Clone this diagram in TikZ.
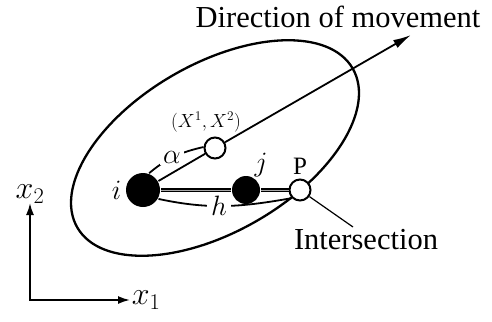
\RequirePackage{fix-cm}
\documentclass[tikz,border=0pt]{standalone}
\usepackage[no-math]{fontspec}
\setmainfont{Liberation Serif}
\usetikzlibrary{arrows.meta,positioning}

\tikzset{
  fulldot/.style={circle, fill=black, inner sep=0pt},
  opendot/.style={circle, draw, line width=2pt, fill=white, inner sep=0pt, minimum size=21pt},
  mlabel/.style={inner sep=1pt, font=\fontsize{28}{30}\selectfont},
  axlabel/.style={inner sep=1pt, font=\fontsize{32}{34}\selectfont},
  tlabel/.style={inner sep=1pt, font=\fontsize{30.5}{33}\selectfont},
  arr/.style={-{Latex[length=18pt,width=9pt]}},
}

\begin{document}
\begin{tikzpicture}[x=1pt, y=1pt, line width=1.8pt]
    \useasboundingbox (0,0) rectangle (492,-321);
    % -----------------------------------------------------
    % 1) Elipse centrada en (X^1,X^2), inclinada 30 grados
    % -----------------------------------------------------
    \coordinate (c) at (215,-148);
    \draw[line width=2.3pt, rotate around={30:(c)}] (c) ellipse (159 and 84);

    % -----------------------------------------------------
    % 2) Puntos i, j, (X^1,X^2) y P
    % -----------------------------------------------------
    \node[fulldot, minimum size=34pt] (i) at (143,-190) {};
    \node[fulldot, minimum size=28pt] (j) at (246,-190) {};
    \node[opendot] (X) at (c) {};
    \node[opendot] (P) at (300,-190) {};

    \node[mlabel, left=2pt of i] (ilab) {$i$};
    \node[mlabel] (jlab) at (261,-165) {$j$};
    \node[inner sep=1pt, font=\fontsize{25}{27}\selectfont, above=2pt of P] (Plab) {P};
    \node[inner sep=1pt, font=\fontsize{19}{21}\selectfont] (Xlab) at (206,-122) {$(X^1,X^2)$};

    % -----------------------------------------------------
    % 3) Segmento i--P y direccion de movimiento
    % -----------------------------------------------------
    \draw[line width=1.3pt, double=black!35, double distance=0.7pt] (i) -- (j) -- (P);
    \draw (i) -- (X);
    \coordinate (tip) at (411,-35);
    \draw[arr] (X) -- (tip);
    \node[tlabel] (dir) at (338,-17) {Direction of movement};

    % -----------------------------------------------------
    % 4) Distancias alpha y h
    % -----------------------------------------------------
    \draw (i.70) to[out=40, in=193]
        node[pos=0.45, mlabel, fill=white, inner xsep=3pt] (alab) {$\alpha$} (X.175);
    \draw (i.-30) to[out=-12, in=190]
        node[pos=0.45, mlabel, fill=white, inner xsep=4pt] (hlab) {$h$} (P.225);

    % Interseccion
    \node[tlabel] (inter) at (366,-240) {Intersection};
    \coordinate (lead) at (353,-227);
    \draw[line width=1.2pt] (P) -- (lead);

    % -----------------------------------------------------
    % 5) Ejes x_1, x_2
    % -----------------------------------------------------
    \coordinate (O) at (30,-300);
    \coordinate (e1) at (130,-300);
    \coordinate (e2) at (30,-203);
    \draw[{Latex[length=12pt,width=8pt]}-{Latex[length=12pt,width=8pt]}] (e2) -- (O) -- (e1);
    \node[axlabel, right=0pt of e1] (x1lab) {$x_1$};
    \node[axlabel, above=-2pt of e2] (x2lab) {$x_2$};
\end{tikzpicture}
\end{document}
